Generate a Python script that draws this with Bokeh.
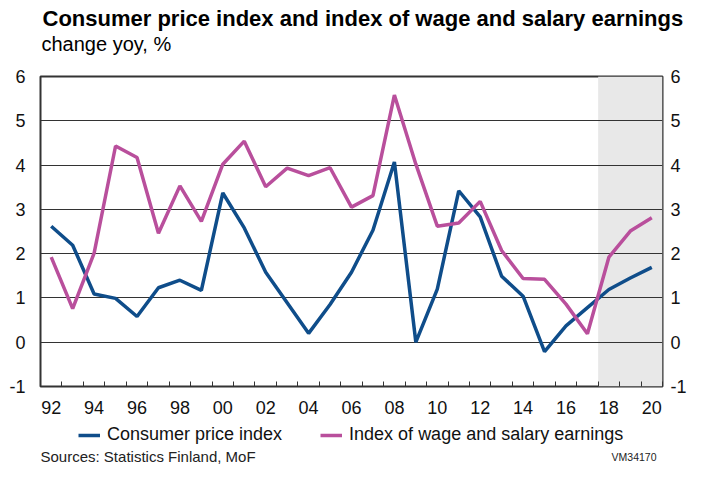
from bokeh.plotting import figure
from bokeh.layouts import column
from bokeh.models import (Range1d, LinearAxis, FixedTicker, BoxAnnotation, Legend,
                          LegendItem, Label, Title)
from bokeh.embed import file_html
from bokeh.resources import INLINE

# ---------------- data ----------------
years = list(range(1992, 2021))
cpi = [2.62, 2.19, 1.09, 0.99, 0.58, 1.23, 1.40, 1.17, 3.37, 2.58,
       1.58, 0.89, 0.20, 0.85, 1.58, 2.53, 4.07, 0.00, 1.20, 3.42,
       2.83, 1.49, 1.04, -0.21, 0.37, 0.78, 1.19, 1.45, 1.69]
wage = [1.92, 0.76, 2.01, 4.43, 4.17, 2.46, 3.53, 2.73, 4.02, 4.54,
        3.51, 3.93, 3.76, 3.94, 3.05, 3.31, 5.58, 4.02, 2.62, 2.69,
        3.18, 2.07, 1.44, 1.42, 0.86, 0.19, 1.92, 2.51, 2.81]
x_tick_years = list(range(1992, 2021, 2))
x_tick_labels = ["92", "94", "96", "98", "00", "02", "04", "06", "08",
                 "10", "12", "14", "16", "18", "20"]
y_ticks = [-1, 0, 1, 2, 3, 4, 5, 6]
y_tick_labels = ["-1", "0", "1", "2", "3", "4", "5", "6"]
forecast_start = 2017.5
forecast_end = 2020.5
series_names = ["Consumer price index", "Index of wage and salary earnings"]
title_text = "Consumer price index and index of wage and salary earnings"
subtitle_text = "change yoy, %"
source_text = "Sources: Statistics Finland, MoF"
code_text = "VM34170"

BLUE = "#0f4d8a"
PINK = "#b94f9c"
FONT = "Liberation Sans"
W = 689

# ---------------- main chart ----------------
p = figure(width=W, height=422, output_backend="svg", toolbar_location=None,
           x_range=Range1d(1991.5, 2020.5), y_range=Range1d(-1, 6),
           min_border_left=40, min_border_right=25, min_border_top=76,
           min_border_bottom=36, title=None)
p.background_fill_color = "white"
p.border_fill_color = "white"
p.outline_line_color = "#333333"
p.outline_line_width = 2

# header rows (first added = closest to the frame)
p.add_layout(Title(text=" ", text_font_size="1px", standoff=19), "above")
p.add_layout(Title(text=subtitle_text, align="left", offset=1, standoff=0,
                   vertical_align="bottom", text_font=FONT, text_font_size="20px",
                   text_font_style="normal", text_color="#000000"), "above")
p.add_layout(Title(text=title_text, align="left", offset=2, standoff=0,
                   vertical_align="bottom", text_font=FONT, text_font_size="22px",
                   text_font_style="bold", text_color="#000000"), "above")

shade = BoxAnnotation(left=forecast_start, right=forecast_end,
                      fill_color="#e8e8e8", fill_alpha=1.0, line_color=None,
                      level="image")
p.add_layout(shade)

p.xgrid.visible = False
p.ygrid.ticker = FixedTicker(ticks=y_ticks)
p.ygrid.grid_line_color = "#333333"
p.ygrid.grid_line_width = 1

p.line(years, cpi, line_color=BLUE, line_width=3.5)
p.line(years, wage, line_color=PINK, line_width=3.5)

xa = p.xaxis[0]
xa.ticker = FixedTicker(ticks=x_tick_years,
                        minor_ticks=[y - 0.5 for y in years] + [years[-1] + 0.5])
xa.major_label_overrides = dict(zip(x_tick_years, x_tick_labels))
xa.major_tick_in = 0
xa.major_tick_out = 0
xa.minor_tick_in = 5
xa.minor_tick_out = 0
xa.minor_tick_line_color = "#333333"
xa.minor_tick_line_width = 1
xa.axis_line_color = None
xa.major_label_standoff = 14
xa.major_label_text_font = FONT
xa.major_label_text_font_size = "18px"
xa.major_label_text_color = "#111111"


def style_y(ax, standoff):
    ax.ticker = FixedTicker(ticks=y_ticks)
    ax.major_label_overrides = dict(zip(y_ticks, y_tick_labels))
    ax.major_tick_in = 0
    ax.major_tick_out = 0
    ax.minor_tick_line_color = None
    ax.axis_line_color = None
    ax.major_label_standoff = standoff
    ax.major_label_text_font = FONT
    ax.major_label_text_font_size = "18px"
    ax.major_label_text_color = "#111111"


style_y(p.yaxis[0], 15)
ra = LinearAxis()
style_y(ra, 8)
p.add_layout(ra, "right")

# ---------------- footer: legend + sources ----------------
foot = figure(width=W, height=42, output_backend="svg", toolbar_location=None,
              x_axis_type=None, y_axis_type=None, min_border_left=0,
              min_border_right=0, min_border_top=0, min_border_bottom=0,
              x_range=Range1d(0, 1), y_range=Range1d(0, 1))
foot.outline_line_color = None
foot.background_fill_color = "white"
foot.border_fill_color = "white"
# legend keys (a single empty point each; only their style is shown in the legend)
nan = float("nan")
k1 = foot.line([nan], [nan], line_color=BLUE, line_width=3.5)
k2 = foot.line([nan], [nan], line_color=PINK, line_width=3.5)
legend = Legend(items=[LegendItem(label=series_names[0], renderers=[k1]),
                       LegendItem(label=series_names[1], renderers=[k2])],
                location=(38, 19), orientation="horizontal",
                background_fill_alpha=0, border_line_color=None,
                padding=0, margin=0, glyph_width=22, label_standoff=7,
                spacing=38, label_text_font=FONT, label_text_font_size="18px",
                label_text_color="#111111")
foot.add_layout(legend, "center")
foot.add_layout(Label(x=0, y=8, x_units="screen", y_units="screen", text=source_text,
                      text_font=FONT, text_font_size="15px",
                      text_color="#222222", text_baseline="alphabetic"))
foot.add_layout(Label(x=616, y=8, x_units="screen", y_units="screen", text=code_text,
                      text_font=FONT, text_font_size="10.5px", text_align="right",
                      text_color="#222222", text_baseline="alphabetic"))

layout = column(p, foot, spacing=0)
open("out.html", "w").write(file_html(layout, INLINE))
